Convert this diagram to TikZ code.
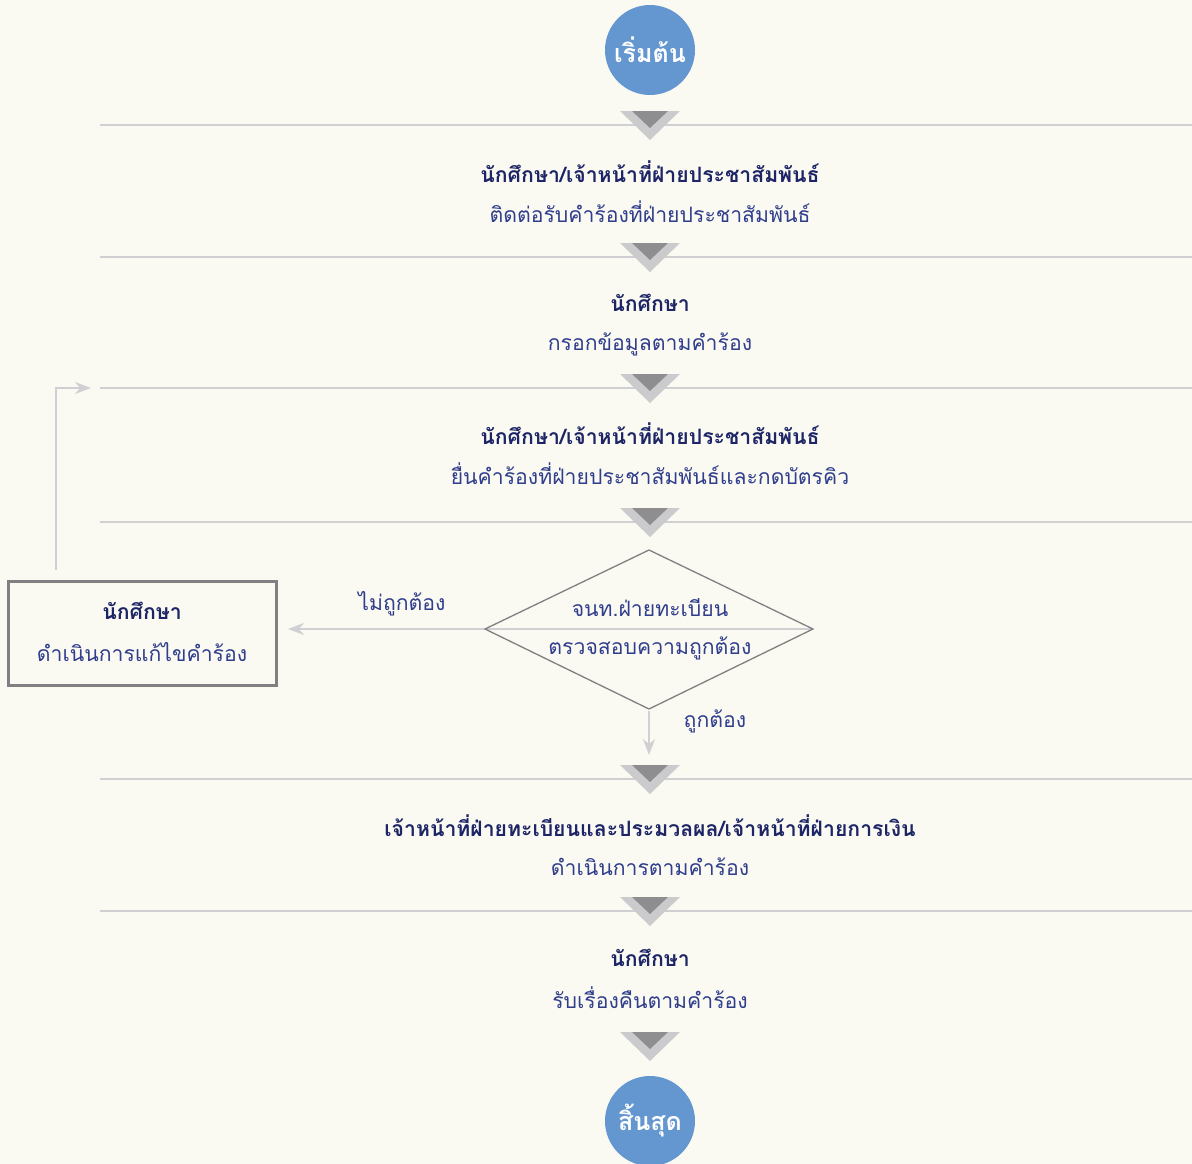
\documentclass[tikz,border=0pt]{standalone}
\usepackage{fontspec}
\newfontfamily\thai[Script=Thai]{Loma}
\usetikzlibrary{arrows.meta,shapes.geometric}
\definecolor{bgc}{RGB}{250,250,242}
\definecolor{linegray}{RGB}{208,208,210}
\definecolor{triLight}{RGB}{203,203,205}
\definecolor{triDark}{RGB}{142,142,144}
\definecolor{circblue}{RGB}{100,151,208}
\definecolor{navyb}{RGB}{29,37,102}
\definecolor{navyr}{RGB}{48,62,140}
\definecolor{boxgray}{RGB}{128,128,130}
\newcommand\mychev[1]{%
  \fill[triLight] (620,#1) -- (680,#1) -- (650,#1+29) -- cycle;
  \fill[triDark] (632,#1) -- (668,#1) -- (650,#1+17) -- cycle;}
\tikzset{
  sepline/.style={linegray, line width=2.5pt},
  head/.style={font=\thai\bfseries\fontsize{21.2}{25}\selectfont, text=navyb, inner sep=0pt},
  body/.style={font=\thai\fontsize{21.2}{25}\selectfont, text=navyr, inner sep=0pt},
  term/.style={circle, fill=circblue, minimum size=90pt, inner sep=0pt, text=white, font=\thai\bfseries\fontsize{25}{29}\selectfont},
  conn/.style={linegray, line width=2pt, -{Stealth[length=16pt,width=12pt]}},
}
\begin{document}
\begin{tikzpicture}[x=1pt,y=-1pt]
\fill[bgc] (0,0) rectangle (1192,1164);
\useasboundingbox (0,0) rectangle (1192,1164);
% separator lines
\foreach \yy in {125,257,388,522,779,911} {\draw[sepline] (100,\yy) -- (1192,\yy);}
% chevrons
\mychev{111}\mychev{243}\mychev{374}\mychev{508}\mychev{765}\mychev{897}\mychev{1032}
% terminals
\node[term] (start) at (650,50) {เริ่มต้น};
\node[term] (end) at (650,1121) {สิ้นสุด};
% steps
\node[head] (h1) at (650,172) {นักศึกษา/เจ้าหน้าที่ฝ่ายประชาสัมพันธ์};
\node[body] (b1) at (650,212) {ติดต่อรับคำร้องที่ฝ่ายประชาสัมพันธ์};
\node[head] (h2) at (650,303) {นักศึกษา};
\node[body] (b2) at (650,344) {กรอกข้อมูลตามคำร้อง};
\node[head] (h3) at (650,434) {นักศึกษา/เจ้าหน้าที่ฝ่ายประชาสัมพันธ์};
\node[body] (b3) at (650,474) {ยื่นคำร้องที่ฝ่ายประชาสัมพันธ์และกดบัตรคิว};
\node[head] (h5) at (650,826) {เจ้าหน้าที่ฝ่ายทะเบียนและประมวลผล/เจ้าหน้าที่ฝ่ายการเงิน};
\node[body] (b5) at (650,867) {ดำเนินการตามคำร้อง};
\node[head] (h6) at (650,958) {นักศึกษา};
\node[body] (b6) at (650,998) {รับเรื่องคืนตามคำร้อง};
% decision
\coordinate (dl) at (485,629);
\coordinate (dr) at (813,629);
\coordinate (dt) at (649,550);
\coordinate (db) at (649,709);
\draw[conn] (dr) -- (288,629) coordinate (boxin);
\draw[boxgray, line width=1.3pt] (dl) -- (dt) -- (dr) -- (db) -- cycle;
\node[body] (d1) at (650,608) {จนท.ฝ่ายทะเบียน};
\node[body] (d2) at (650,648) {ตรวจสอบความถูกต้อง};
% correction box
\node[draw=boxgray, line width=2.5pt, minimum width=268pt, minimum height=104pt, inner sep=0pt] (fix) at (142.5,633.5) {};
\node[head] (fh) at (142,611) {นักศึกษา};
\node[body] (fb) at (142,652) {ดำเนินการแก้ไขคำร้อง};
% labels
\node[body] (no) at (402,604) {ไม่ถูกต้อง};
\node[body] (yes) at (715,721) {ถูกต้อง};
% arrows
\draw[conn] (db) ++(0,2) -- (649,755) coordinate (yestip);
\coordinate (looptop) at (56,388);
\draw[conn] (56,570) -- (looptop) -- (91,388) coordinate (loopend);
\end{tikzpicture}
\end{document}
